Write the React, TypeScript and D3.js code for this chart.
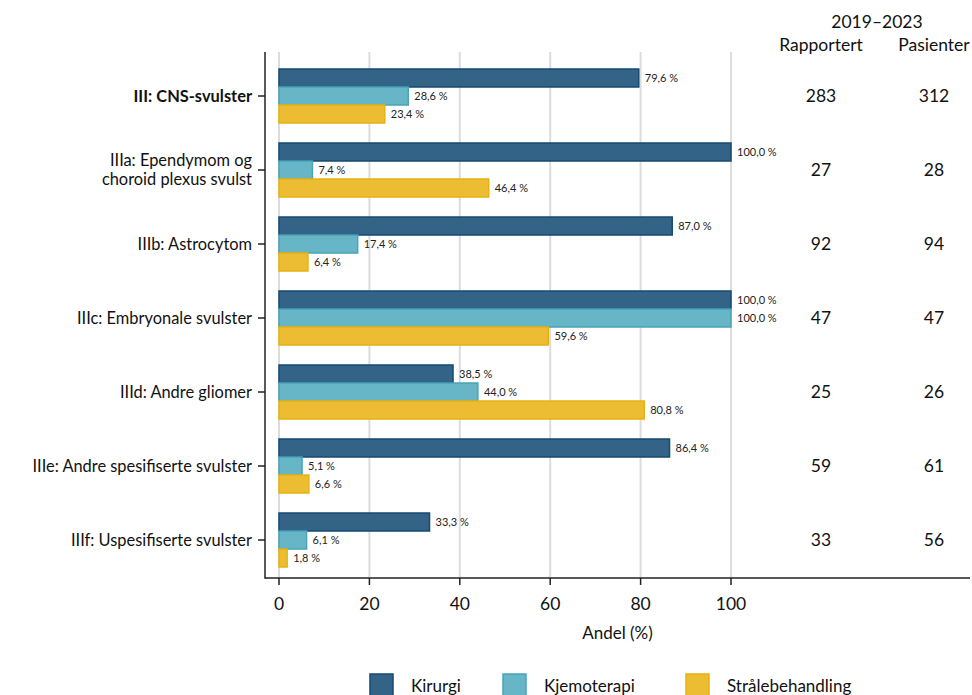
import React from "react";
import * as d3 from "d3";

const categories = [
  "III: CNS-svulster",
  "IIIa: Ependymom og|choroid plexus svulst",
  "IIIb: Astrocytom",
  "IIIc: Embryonale svulster",
  "IIId: Andre gliomer",
  "IIIe: Andre spesifiserte svulster",
  "IIIf: Uspesifiserte svulster",
];
const kirurgi = [79.6, 100.0, 87.0, 100.0, 38.5, 86.4, 33.3];
const kjemoterapi = [28.6, 7.4, 17.4, 100.0, 44.0, 5.1, 6.1];
const straale = [23.4, 46.4, 6.4, 59.6, 80.8, 6.6, 1.8];
const rapportert = [283, 27, 92, 47, 25, 59, 33];
const pasienter = [312, 28, 94, 47, 26, 61, 56];
const xTicks = [0, 20, 40, 60, 80, 100];
const seriesNames = ["Kirurgi", "Kjemoterapi", "Strålebehandling"];

const fills = ["#336487", "#67b6c8", "#ecbd33"];
const strokes = ["#164a72", "#4aa3b9", "#e9b10f"];
const FONT = "Lato, 'Open Sans', sans-serif";

export default function App() {
  const W = 972, H = 695;
  const x = d3.scaleLinear().domain([0, 100]).range([279, 731]);
  const y = d3.scaleBand<number>().domain(d3.range(categories.length)).range([59, 577]).paddingInner(0).paddingOuter(0);
  const barH = 18;
  const series = [kirurgi, kjemoterapi, straale];
  const fmt = (v: number) => v.toFixed(1).replace(".", ",") + " %";
  const plotTop = 52, plotBottom = 578, axisLeft = 265, axisRight = 970;

  return (
    <svg width={W} height={H} style={{ position: "absolute", left: 0, top: 0, background: "#fff" }} fontFamily={FONT}>
      {xTicks.map((t) => (
        <line key={"g" + t} x1={x(t)} x2={x(t)} y1={plotTop} y2={plotBottom} stroke="#dcdcdc" strokeWidth={2} />
      ))}
      {categories.map((c, i) => {
        const cy = (y(i) as number) + y.bandwidth() / 2;
        const top = cy - (barH * 3) / 2;
        return (
          <g key={c}>
            {series.map((s, k) => (
              <g key={k}>
                <rect
                  x={x(0)}
                  y={top + k * barH}
                  width={x(s[i]) - x(0)}
                  height={barH}
                  fill={fills[k]}
                  stroke={strokes[k]}
                  strokeWidth={1.5}
                />
                <text x={x(s[i]) + 6} y={top + k * barH + barH / 2} dy="0.35em" fontSize={11} fill="#222">
                  {fmt(s[i])}
                </text>
              </g>
            ))}
            <line x1={axisLeft - 7} x2={axisLeft} y1={cy} y2={cy} stroke="#222" strokeWidth={1.5} />
            {c.split("|").map((line, li, arr) => (
              <text
                key={li}
                x={axisLeft - 13}
                y={cy + (li - (arr.length - 1) / 2) * 19}
                dy="0.35em"
                textAnchor="end"
                fontSize={16.4}
                fontWeight={i === 0 ? 700 : 400}
                fill="#111"
              >
                {line}
              </text>
            ))}
            <text x={821} y={cy} dy="0.35em" textAnchor="middle" fontSize={17.5} fill="#111">{rapportert[i]}</text>
            <text x={934} y={cy} dy="0.35em" textAnchor="middle" fontSize={17.5} fill="#111">{pasienter[i]}</text>
          </g>
        );
      })}
      <line x1={axisLeft} x2={axisLeft} y1={plotTop} y2={plotBottom + 0.75} stroke="#222" strokeWidth={1.5} />
      <line x1={axisLeft} x2={axisRight} y1={plotBottom} y2={plotBottom} stroke="#222" strokeWidth={1.5} />
      {xTicks.map((t) => (
        <g key={"t" + t}>
          <line x1={x(t)} x2={x(t)} y1={plotBottom} y2={plotBottom + 7} stroke="#222" strokeWidth={1.5} />
          <text x={x(t)} y={604} dy="0.35em" textAnchor="middle" fontSize={17.5} fill="#111">{t}</text>
        </g>
      ))}
      <text x={(axisLeft + axisRight) / 2} y={633} dy="0.35em" textAnchor="middle" fontSize={17} fill="#111">Andel (%)</text>
      <text x={877} y={22} dy="0.35em" textAnchor="middle" fontSize={17.5} fill="#111">2019–2023</text>
      <text x={821} y={45} dy="0.35em" textAnchor="middle" fontSize={17.5} fill="#111">Rapportert</text>
      <text x={934} y={45} dy="0.35em" textAnchor="middle" fontSize={17.5} fill="#111">Pasienter</text>
      {seriesNames.map((n, k) => {
        const lx = [370, 503, 686][k];
        return (
          <g key={n}>
            <rect x={lx} y={674} width={23} height={23} fill={fills[k]} stroke={strokes[k]} strokeWidth={1.5} />
            <text x={lx + 41} y={686} dy="0.35em" fontSize={17} fill="#111">{n}</text>
          </g>
        );
      })}
    </svg>
  );
}
